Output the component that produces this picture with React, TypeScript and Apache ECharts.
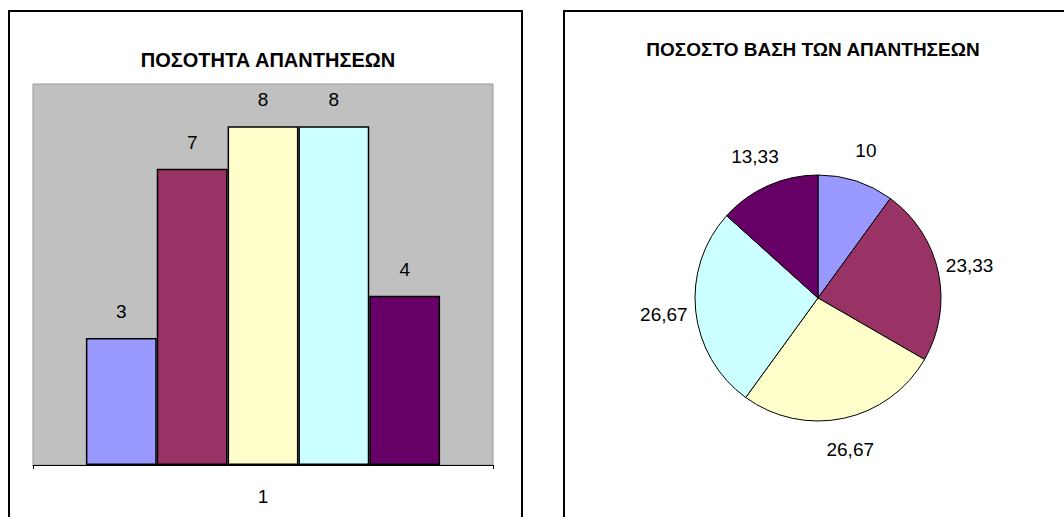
import React, { useEffect, useRef } from "react";
import * as echarts from "echarts";

const categories = ["1"];
const counts = [3, 7, 8, 8, 4];
const percentages = [10, 23.33, 26.67, 26.67, 13.33];
const colors = ["#9999FF", "#993366", "#FFFFCC", "#CCFFFF", "#660066"];
const barTitle = "ΠΟΣΟΤΗΤΑ ΑΠΑΝΤΗΣΕΩΝ";
const pieTitle = "ΠΟΣΟΣΤΟ ΒΑΣΗ ΤΩΝ ΑΠΑΝΤΗΣΕΩΝ";
const yMax = 9;

const FONT = "'Liberation Sans', Arial, sans-serif";

export default function App() {
  const ref = useRef<HTMLDivElement>(null);
  useEffect(() => {
    if (!ref.current) return;
    const chart = echarts.init(ref.current, null, { renderer: "svg" });
    const fmt = (v: number) => String(v).replace(".", ",");
    const pieCenter = [818, 298];
    const option: any = {
      animation: false,
      backgroundColor: "#ffffff",
      textStyle: { fontFamily: FONT },
      graphic: [
        {
          type: "rect",
          shape: { x: 9, y: 11, width: 513, height: 600 },
          style: { fill: "none", stroke: "#000", lineWidth: 2 },
          z: 100,
        },
        {
          type: "rect",
          shape: { x: 564, y: 11, width: 600, height: 600 },
          style: { fill: "none", stroke: "#000", lineWidth: 2 },
          z: 100,
        },
        {
          type: "text",
          x: 268,
          y: 60,
          style: {
            text: barTitle,
            fontFamily: FONT,
            fontWeight: "bold",
            fontSize: 20,
            fill: "#000",
            textAlign: "center",
            textVerticalAlign: "middle",
          },
        },
        {
          type: "text",
          x: 813,
          y: 49,
          style: {
            text: pieTitle,
            fontFamily: FONT,
            fontWeight: "bold",
            fontSize: 19,
            fill: "#000",
            textAlign: "center",
            textVerticalAlign: "middle",
          },
        },
      ],
      grid: {
        left: 33,
        top: 84,
        width: 460,
        height: 381,
        show: true,
        backgroundColor: "#C0C0C0",
        borderColor: "#999999",
        borderWidth: 1,
      },
      xAxis: {
        type: "category",
        data: categories,
        axisLine: { lineStyle: { color: "#000", width: 1 } },
        axisTick: { show: true, length: 4, lineStyle: { color: "#000" } },
        axisLabel: { color: "#000", fontSize: 19, margin: 22, fontFamily: FONT },
      },
      yAxis: {
        type: "value",
        min: 0,
        max: yMax,
        show: false,
        splitLine: { show: false },
      },
      series: [
        ...counts.map((c, i) => ({
          type: "bar",
          name: "s" + (i + 1),
          data: [c],
          barGap: "0%",
          barCategoryGap: "23%",
          itemStyle: { color: colors[i], borderColor: "#000", borderWidth: 1.5 },
          label: {
            show: true,
            position: "top",
            distance: 17,
            color: "#000",
            fontSize: 19,
            fontFamily: FONT,
          },
        })),
        {
          type: "pie",
          center: pieCenter,
          radius: 123,
          startAngle: 90,
          clockwise: true,
          data: percentages.map((p, i) => ({ value: p, name: "p" + (i + 1), itemStyle: { color: colors[i] } })),
          itemStyle: { borderColor: "#000", borderWidth: 1 },
          label: { show: false },
          labelLine: { show: false },
          emphasis: { disabled: true },
        },
        {
          type: "pie",
          center: pieCenter,
          radius: [137, 167],
          startAngle: 90,
          clockwise: true,
          silent: true,
          data: percentages.map((p, i) => ({ value: p, name: "l" + (i + 1) })),
          itemStyle: { color: "rgba(0,0,0,0)", borderWidth: 0 },
          label: {
            show: true,
            position: "inside",
            color: "#000",
            fontSize: 19,
            fontFamily: FONT,
            formatter: (p: any) => fmt(p.value),
          },
          labelLine: { show: false },
          emphasis: { disabled: true },
        },
      ],
    };
    chart.setOption(option);
    return () => chart.dispose();
  }, []);
  return (
    <div
      ref={ref}
      style={{ position: "fixed", left: 0, top: 0, width: 1064, height: 517 }}
    />
  );
}
